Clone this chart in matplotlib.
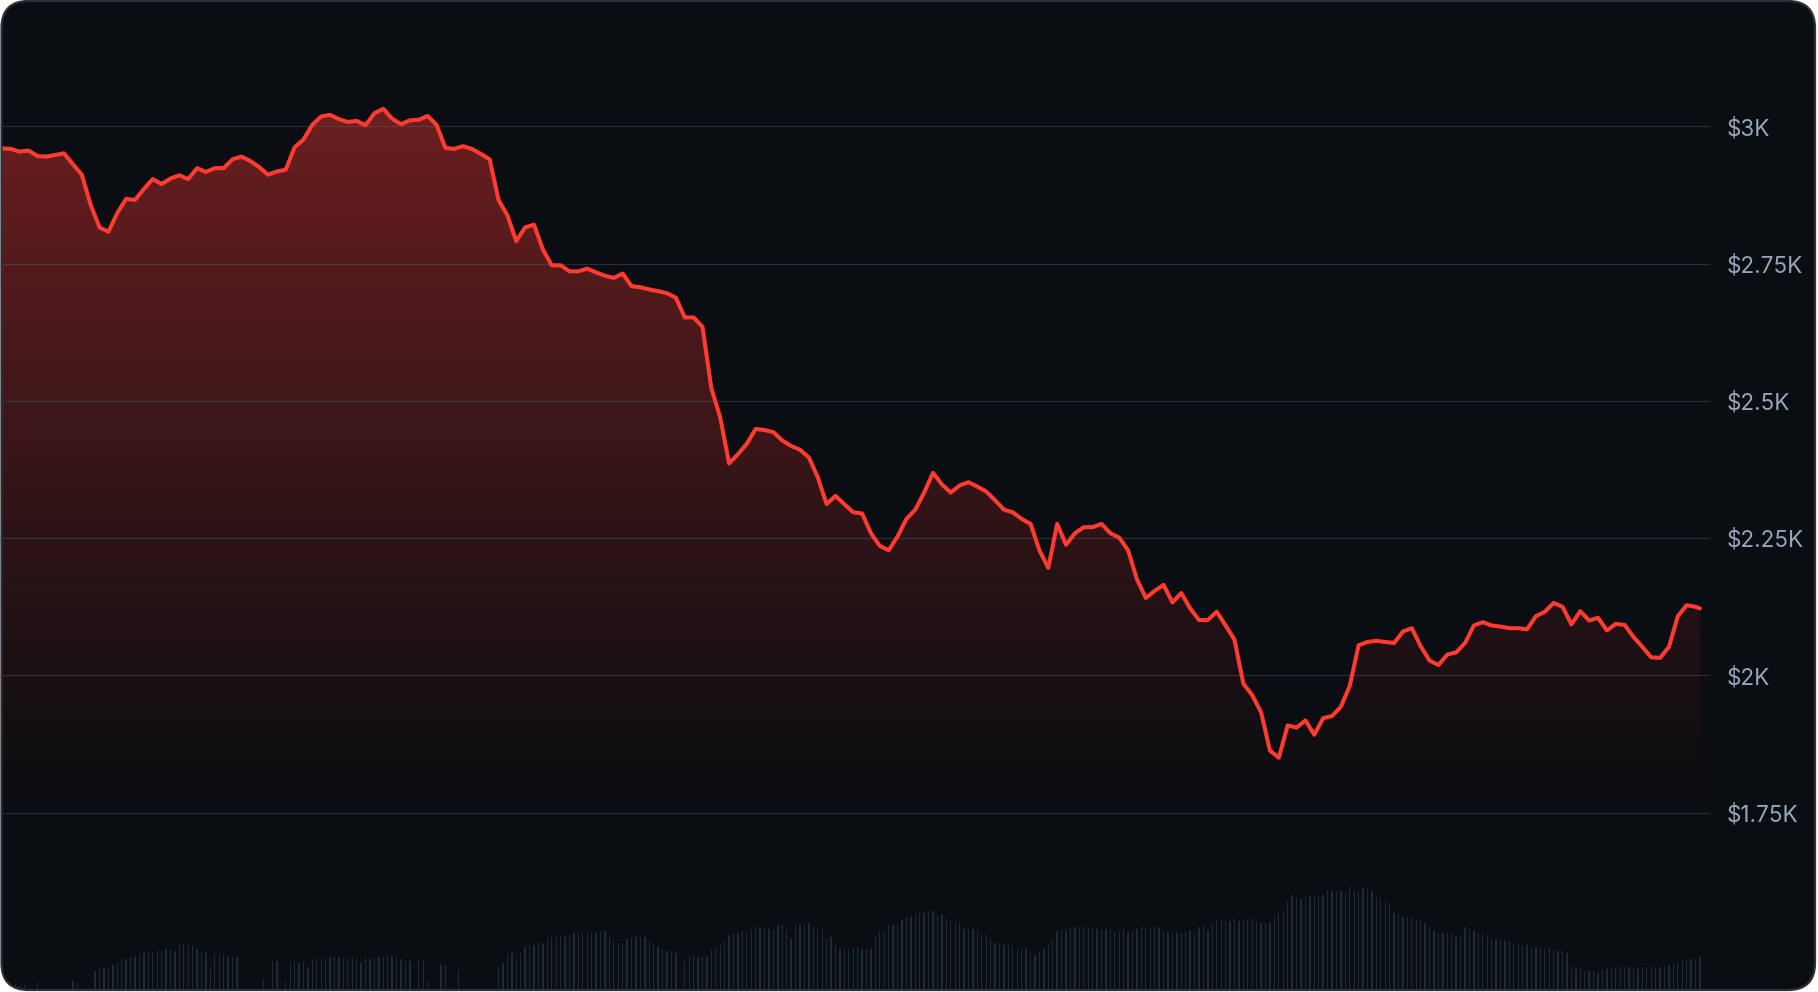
import numpy as np
import matplotlib
matplotlib.use("Agg")
import matplotlib.pyplot as plt
from matplotlib.patches import FancyBboxPatch

# ---------------- data ----------------
# price sampled every 2 hours (hour index), last sample at hour 383
price_hours = np.append(np.arange(0, 383, 2), 383)
price = [
    2960, 2959, 2954, 2956, 2946, 2945, 2948, 2951, 2931, 2912,
    2857, 2816, 2808, 2842, 2868, 2866, 2886, 2904, 2895, 2905,
    2911, 2904, 2924, 2917, 2924, 2924, 2940, 2945, 2937, 2926,
    2912, 2918, 2921, 2962, 2976, 3003, 3018, 3021, 3013, 3008,
    3010, 3002, 3024, 3032, 3014, 3004, 3011, 3012, 3019, 3003,
    2961, 2959, 2964, 2959, 2950, 2940, 2866, 2838, 2791, 2816,
    2821, 2776, 2747, 2747, 2736, 2736, 2741, 2734, 2728, 2724,
    2732, 2709, 2707, 2703, 2700, 2696, 2688, 2652, 2652, 2635,
    2523, 2470, 2386, 2403, 2422, 2449, 2447, 2443, 2428, 2418,
    2411, 2397, 2361, 2312, 2327, 2312, 2297, 2295, 2259, 2236,
    2228, 2253, 2285, 2302, 2333, 2369, 2348, 2333, 2346, 2352,
    2344, 2335, 2319, 2302, 2297, 2285, 2276, 2228, 2196, 2276,
    2238, 2259, 2270, 2270, 2276, 2259, 2251, 2228, 2175, 2141,
    2154, 2165, 2133, 2150, 2122, 2101, 2101, 2116, 2091, 2065,
    1985, 1964, 1933, 1863, 1850, 1909, 1905, 1918, 1892, 1922,
    1926, 1943, 1981, 2055, 2061, 2063, 2061, 2059, 2080, 2086,
    2053, 2027, 2019, 2038, 2042, 2059, 2091, 2097, 2091, 2089,
    2086, 2086, 2084, 2108, 2116, 2132, 2125, 2093, 2117, 2100,
    2105, 2082, 2094, 2092, 2070, 2052, 2033, 2032, 2052, 2108,
    2128, 2125, 2122,
]

# hourly volume (relative units)
volume = [
    0, 0, 0, 6, 4, 5, 0, 0, 7, 0, 0, 0, 0, 0, 0, 0, 9, 7, 0, 0,
    0, 19, 21, 23, 21, 25, 27, 31, 31, 33, 33, 35, 37, 37, 37, 39, 39, 41, 41, 39,
    45, 47, 45, 45, 41, 39, 37, 21, 37, 37, 35, 33, 33, 33, 0, 1, 0, 0, 0, 11,
    0, 29, 29, 0, 9, 27, 29, 27, 29, 23, 31, 31, 31, 33, 33, 33, 33, 31, 31, 33,
    31, 27, 33, 31, 33, 33, 33, 35, 33, 33, 31, 29, 29, 1, 29, 29, 9, 0, 1, 25,
    25, 1, 3, 21, 0, 0, 0, 0, 0, 1, 1, 0, 23, 27, 35, 37, 31, 37, 43, 45,
    45, 47, 47, 51, 53, 53, 55, 53, 55, 57, 57, 57, 57, 57, 57, 59, 59, 53, 49, 47,
    47, 51, 53, 53, 53, 53, 49, 45, 43, 41, 39, 39, 37, 1, 29, 33, 35, 33, 33, 33,
    41, 43, 45, 49, 55, 57, 57, 59, 57, 61, 63, 63, 61, 61, 61, 65, 65, 61, 51, 65,
    65, 65, 67, 63, 61, 61, 51, 53, 45, 41, 41, 41, 41, 43, 41, 41, 41, 53, 59, 59,
    65, 65, 65, 71, 73, 73, 75, 77, 77, 79, 79, 75, 75, 71, 69, 69, 67, 61, 61, 61,
    59, 55, 55, 51, 47, 47, 45, 45, 43, 41, 41, 41, 37, 35, 39, 41, 45, 51, 59, 61,
    59, 63, 63, 63, 63, 63, 61, 61, 61, 61, 61, 59, 59, 61, 57, 59, 61, 63, 63, 63,
    63, 63, 59, 57, 57, 57, 57, 59, 59, 59, 63, 65, 59, 67, 69, 69, 69, 69, 71, 69,
    69, 71, 71, 69, 67, 67, 67, 73, 77, 77, 89, 95, 93, 91, 93, 95, 93, 93, 95, 99,
    99, 99, 99, 97, 103, 99, 99, 103, 101, 99, 93, 91, 89, 87, 77, 75, 73, 73, 73, 71,
    69, 67, 63, 59, 57, 57, 57, 57, 53, 53, 63, 61, 59, 57, 57, 53, 51, 51, 49, 49,
    49, 47, 47, 45, 45, 41, 43, 41, 41, 43, 41, 39, 39, 37, 23, 21, 21, 19, 19, 19,
    17, 21, 21, 21, 23, 23, 23, 23, 23, 21, 23, 23, 23, 23, 23, 23, 25, 27, 27, 29,
    31, 31, 31, 33,
]
volume_hours = np.arange(len(volume))

tick_values = [1750, 2000, 2250, 2500, 2750, 3000]
tick_labels = ["$1.75K", "$2K", "$2.25K", "$2.5K", "$2.75K", "$3K"]

# ---------------- styling ----------------
W, H = 1818, 992
DPI = 100
BG = "#0a0d11"
BORDER = "#2c3139"
RED = "#ff3b30"
FILL_RGB = (0.988, 0.227, 0.204)
BAR = "#1f2a37"
LABEL = "#97a5ba"

plt.rcParams["font.family"] = ["Inter", "DejaVu Sans"]

fig = plt.figure(figsize=(W / DPI, H / DPI), dpi=DPI, facecolor="white")

# background card (pixel coordinates)
ax_bg = fig.add_axes([0, 0, 1, 1], zorder=0)
ax_bg.set_xlim(0, W)
ax_bg.set_ylim(0, H)
ax_bg.axis("off")
card = FancyBboxPatch((1.5, 2.0), 1813.5, 989.0,
                      boxstyle="round,pad=0,rounding_size=27",
                      facecolor=BG, edgecolor="none")
ax_bg.add_patch(card)

# x mapping: hour 0 at px 2, hour 383 at px 1700, axes right edge at px 1710
ax_right_px = 1710
px_per_h = (1700 - 2) / 383.0
x0 = -2 / px_per_h
x1 = 383 + (ax_right_px - 1700) / px_per_h

# main price axes
ax = fig.add_axes([0, 0, ax_right_px / W, 1], zorder=2)
ax.set_facecolor("none")
ax.set_xlim(x0, x1)
ax.set_ylim(1423.4, 3230.2)
for s in ax.spines.values():
    s.set_visible(False)
ax.set_xticks([])
ax.yaxis.tick_right()
ax.set_yticks(tick_values)
ax.set_yticklabels(tick_labels)
ax.tick_params(axis="y", length=0, pad=12.0, labelsize=16.2, labelcolor=LABEL)
for lab in ax.get_yticklabels():
    lab.set_clip_on(False)

# gridlines
for v in tick_values:
    ax.axhline(v, color=(0.36, 0.41, 0.48), alpha=0.36, lw=0.9, zorder=2)

# gradient fill under line
fill_bottom = 1750
poly = ax.fill_between(price_hours, price, fill_bottom, facecolor="none",
                       edgecolor="none", zorder=1)
grad_top, grad_bot = 3032, 1750
n = 512
t = np.linspace(0, 1, n)
alpha = (t ** 1.1) * 0.41
img = np.zeros((n, 1, 4))
img[..., 0] = FILL_RGB[0]
img[..., 1] = FILL_RGB[1]
img[..., 2] = FILL_RGB[2]
img[:, 0, 3] = alpha
im = ax.imshow(img, extent=[x0, x1, grad_bot, grad_top], origin="lower",
               aspect="auto", interpolation="bilinear", zorder=1)
im.set_clip_path(poly.get_paths()[0], transform=ax.transData)

# price line
line, = ax.plot(price_hours, price, color=RED, lw=2.9, solid_joinstyle="round",
                solid_capstyle="round", zorder=4)
line.set_clip_path(card)

# volume axes
vol_h_px = 120
ax_v = fig.add_axes([0, 2 / H, ax_right_px / W, vol_h_px / H], zorder=1)
ax_v.set_facecolor("none")
ax_v.set_xlim(x0, x1)
ax_v.set_ylim(0, vol_h_px)
ax_v.axis("off")
bars = ax_v.bar(volume_hours, volume, width=0.3, color=BAR, linewidth=0)
for b in bars:
    b.set_clip_path(card)

# card border on top
ax_top = fig.add_axes([0, 0, 1, 1], zorder=6)
ax_top.set_xlim(0, W)
ax_top.set_ylim(0, H)
ax_top.axis("off")
ax_top.set_facecolor("none")
border = FancyBboxPatch((1.5, 2.0), 1813.5, 989.0,
                        boxstyle="round,pad=0,rounding_size=27",
                        facecolor="none", edgecolor=BORDER, linewidth=1.6)
ax_top.add_patch(border)

fig.savefig("out.png", dpi=DPI, facecolor="white")
